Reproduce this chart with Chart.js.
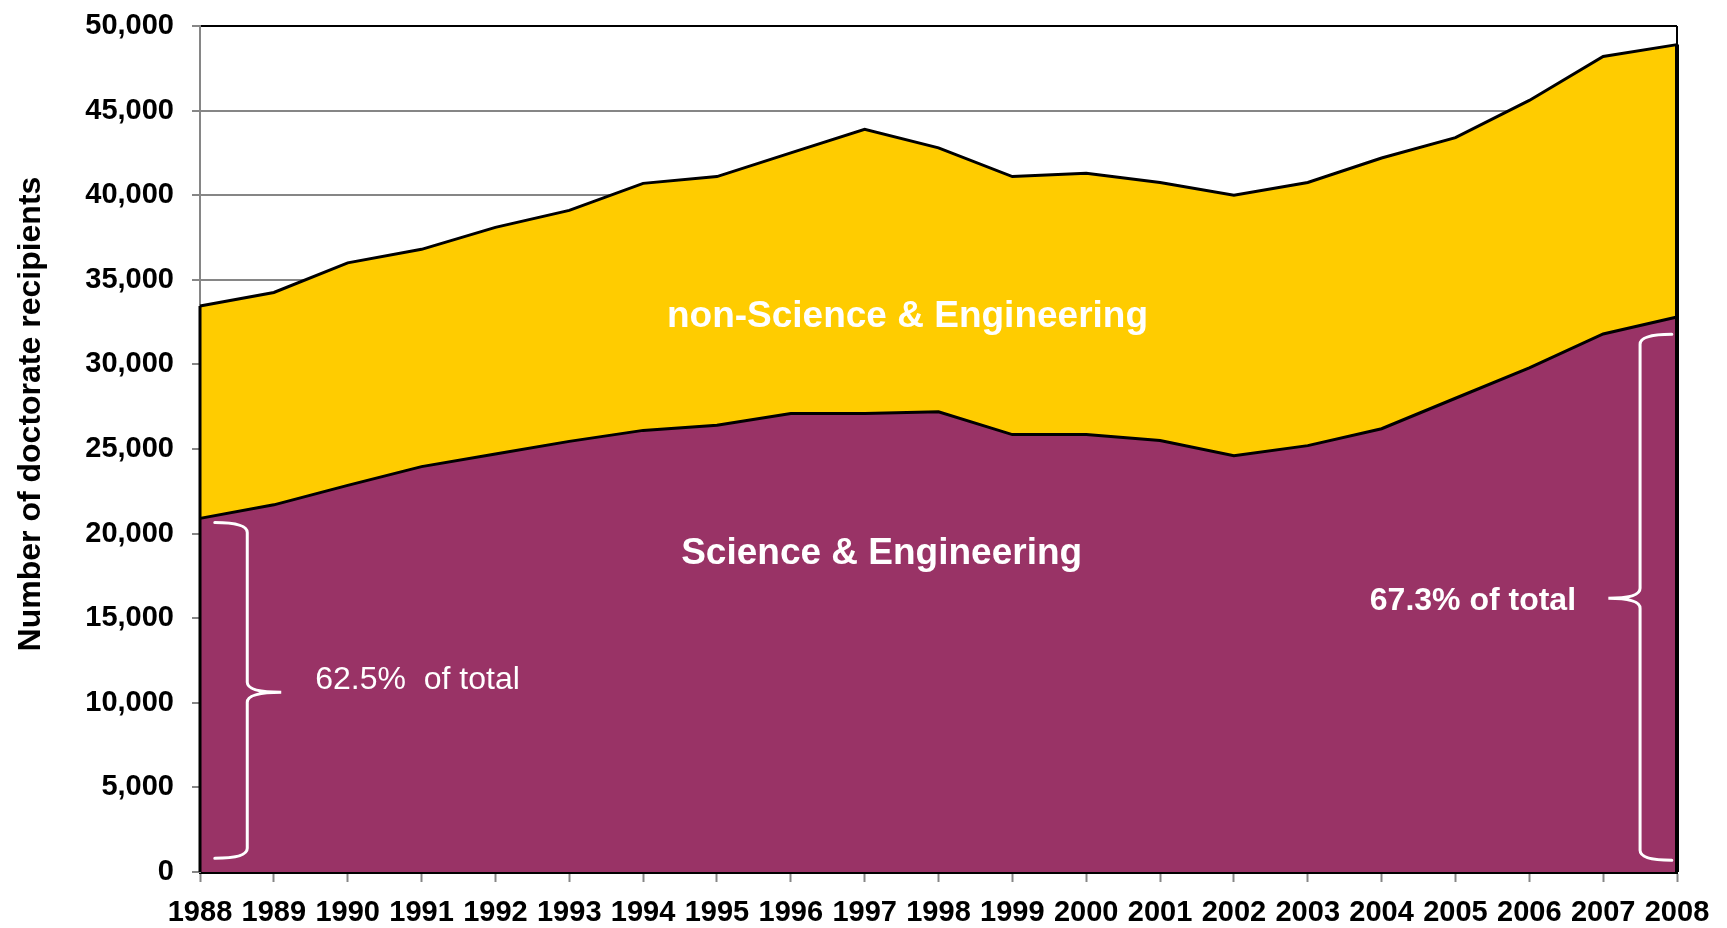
<!DOCTYPE html>
<html>
<head>
<meta charset="utf-8">
<script src="https://cdn.jsdelivr.net/npm/chart.js@4.4.1/dist/chart.umd.min.js"></script>
<style>
  html, body { margin: 0; padding: 0; background: #fff; }
  canvas { display: block; }
</style>
</head>
<body>
<canvas id="chart" width="1727" height="928"></canvas>
<script>
const years = ['1988', '1989', '1990', '1991', '1992', '1993', '1994', '1995', '1996', '1997', '1998',
  '1999', '2000', '2001', '2002', '2003', '2004', '2005', '2006', '2007', '2008'];

// doctorate recipients
const seValues = [20900, 21700, 22850, 23960, 24700, 25450, 26100, 26400, 27100, 27100, 27200,
  25850, 25850, 25500, 24600, 25200, 26200, 28000, 29800, 31800, 32800];
const nonSeValues = [12550, 12550, 13150, 12840, 13400, 13650, 14600, 14700, 15400, 16800, 15600,
  15250, 15450, 15250, 15400, 15550, 16000, 15400, 15800, 16400, 16100];

const yTicks = [0, 5000, 10000, 15000, 20000, 25000, 30000, 35000, 40000, 45000, 50000];

const FONT = "'Liberation Sans', Arial, sans-serif";
const PURPLE = '#993366';
const YELLOW = '#FFCC00';
const GRID = '#868686';

// text and braces on top of the areas
const annotations = {
  id: 'annotations',
  afterDatasetsDraw(chart) {
    const { ctx, chartArea: a, scales: { x, y } } = chart;
    const last = years.length - 1;
    ctx.save();

    // outline of the stacked area at both ends + plot frame on the right
    ctx.strokeStyle = '#000';
    ctx.lineWidth = 3;
    ctx.beginPath();
    ctx.moveTo(x.getPixelForValue(0), y.getPixelForValue(0));
    ctx.lineTo(x.getPixelForValue(0), y.getPixelForValue(seValues[0] + nonSeValues[0]));
    ctx.stroke();
    ctx.lineWidth = 4;
    ctx.beginPath();
    ctx.moveTo(x.getPixelForValue(last), y.getPixelForValue(0));
    ctx.lineTo(x.getPixelForValue(last), y.getPixelForValue(seValues[last] + nonSeValues[last]));
    ctx.stroke();
    ctx.lineWidth = 2;
    ctx.beginPath();
    ctx.moveTo(a.right, a.top);
    ctx.lineTo(a.right, a.bottom);
    ctx.stroke();

    // labels
    ctx.fillStyle = '#fff';
    ctx.textBaseline = 'middle';
    ctx.textAlign = 'center';
    ctx.font = 'bold 37px ' + FONT;
    ctx.fillText('non-Science & Engineering', x.getPixelForValue(9.58), y.getPixelForValue(32840));
    ctx.fillText('Science & Engineering', x.getPixelForValue(9.23), y.getPixelForValue(18780));
    ctx.textAlign = 'left';
    ctx.font = '32px ' + FONT;
    ctx.fillText('62.5%  of total', x.getPixelForValue(1.56), y.getPixelForValue(11330));
    ctx.font = 'bold 32px ' + FONT;
    ctx.fillText('67.3% of total', x.getPixelForValue(15.84), y.getPixelForValue(16000));

    // braces
    ctx.strokeStyle = '#fff';
    ctx.lineWidth = 3;
    ctx.lineCap = 'round';
    const brace = (xEnd, xBar, xTip, yTop, yTip, yBot) => {
      const e = x.getPixelForValue(xEnd), b = x.getPixelForValue(xBar), t = x.getPixelForValue(xTip);
      const top = y.getPixelForValue(yTop), mid = y.getPixelForValue(yTip), bot = y.getPixelForValue(yBot);
      const r = 10;
      ctx.beginPath();
      ctx.moveTo(e, top);
      ctx.quadraticCurveTo(b, top, b, top + r);
      ctx.lineTo(b, mid - r);
      ctx.quadraticCurveTo(b, mid, t, mid);
      ctx.quadraticCurveTo(b, mid, b, mid + r);
      ctx.lineTo(b, bot - r);
      ctx.quadraticCurveTo(b, bot, e, bot);
      ctx.stroke();
    };
    brace(0.2, 0.64, 1.1, 20660, 10620, 810);
    brace(19.93, 19.5, 19.07, 31780, 16180, 690);

    ctx.restore();
  }
};

const yTitle = {
  id: 'yTitle',
  afterDraw(chart) {
    const { ctx } = chart;
    ctx.save();
    ctx.translate(40, 414);
    ctx.rotate(-Math.PI / 2);
    ctx.font = 'bold 32px ' + FONT;
    ctx.fillStyle = '#000';
    ctx.textAlign = 'center';
    ctx.textBaseline = 'alphabetic';
    ctx.fillText('Number of doctorate recipients', 0, 0);
    ctx.restore();
  }
};

new Chart(document.getElementById('chart'), {
  type: 'line',
  data: {
    labels: years,
    datasets: [
      {
        label: 'Science & Engineering',
        data: seValues,
        fill: 'origin',
        backgroundColor: PURPLE,
        borderColor: '#000',
        borderWidth: 3,
        pointRadius: 0,
        tension: 0
      },
      {
        label: 'non-Science & Engineering',
        data: nonSeValues,
        fill: '-1',
        backgroundColor: YELLOW,
        borderColor: '#000',
        borderWidth: 3,
        pointRadius: 0,
        tension: 0
      }
    ]
  },
  options: {
    responsive: false,
    animation: false,
    layout: { padding: { top: 26, right: 50, left: 0, bottom: 0 } },
    plugins: {
      legend: { display: false },
      tooltip: { enabled: false }
    },
    scales: {
      x: {
        offset: false,
        grid: {
          drawOnChartArea: false,
          drawTicks: true,
          tickLength: 10,
          tickWidth: 2,
          tickColor: GRID
        },
        border: { color: '#000', width: 3 },
        ticks: {
          autoSkip: false,
          maxRotation: 0,
          minRotation: 0,
          padding: 14,
          color: '#000',
          font: { family: FONT, size: 29, weight: 'bold' }
        },
        afterFit(scale) { scale.height = 56; }
      },
      y: {
        stacked: true,
        min: 0,
        max: 50000,
        afterBuildTicks(scale) { scale.ticks = yTicks.map(v => ({ value: v })); },
        grid: {
          color: ctx => (ctx.tick && ctx.tick.value === 50000 ? '#000' : GRID),
          lineWidth: 2,
          tickLength: 8,
          tickColor: GRID
        },
        border: { color: GRID, width: 2 },
        ticks: {
          padding: 18,
          color: '#000',
          font: { family: FONT, size: 29, weight: 'bold' },
          callback: v => v.toLocaleString('en-US')
        },
        afterFit(scale) {
          scale.width = 200;
          scale.paddingTop = 0;
          scale.paddingBottom = 0;
        }
      }
    }
  },
  plugins: [annotations, yTitle]
});
</script>
</body>
</html>
